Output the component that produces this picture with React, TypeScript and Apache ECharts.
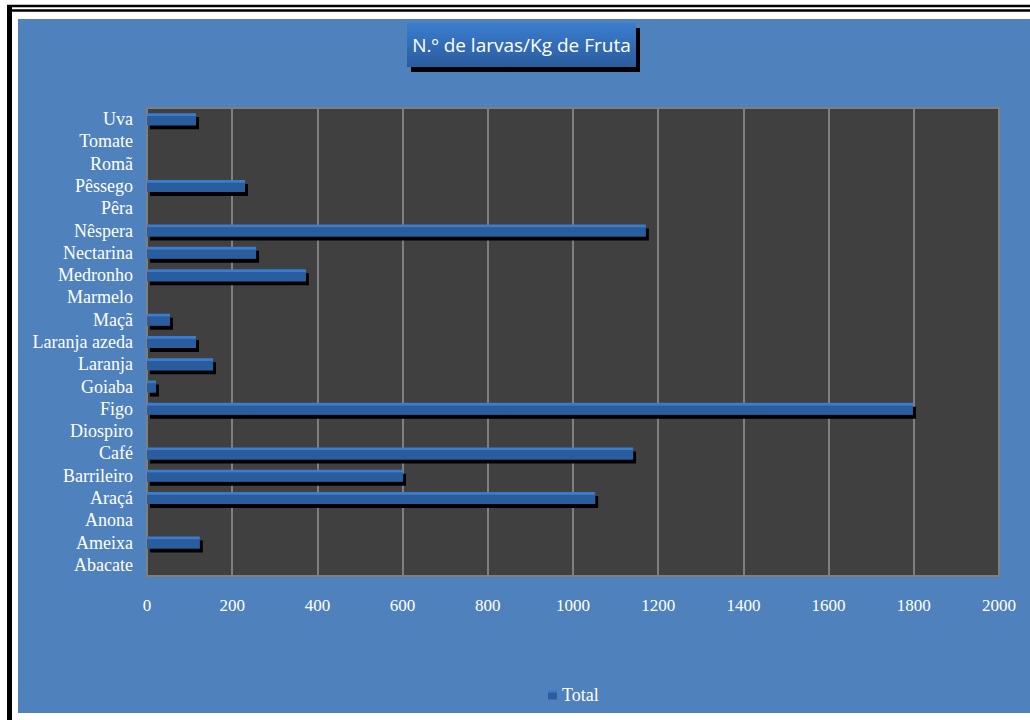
import React, { useEffect, useRef } from "react";
import * as echarts from "echarts";

const categories = [
  "Abacate", "Ameixa", "Anona", "Araçá", "Barrileiro", "Café", "Diospiro", "Figo",
  "Goiaba", "Laranja", "Laranja azeda", "Maçã", "Marmelo", "Medronho", "Nectarina",
  "Nêspera", "Pêra", "Pêssego", "Romã", "Tomate", "Uva",
];
const totals = [
  0, 124, 0, 1052, 601, 1141, 0, 1798,
  21, 155, 115, 54, 0, 373, 256,
  1171, 0, 230, 0, 0, 115,
];
const xTicks = { min: 0, max: 2000, interval: 200 };
const seriesName = "Total";
const titleText = "N.º de larvas/Kg de Fruta";

export default function App() {
  const ref = useRef<HTMLDivElement>(null);
  useEffect(() => {
    if (!ref.current) return;
    const chart = echarts.init(ref.current, null, { renderer: "svg" });
    const serif = "'Liberation Serif', 'Times New Roman', serif";
    chart.setOption({
      animation: false,
      backgroundColor: "#ffffff",
      graphic: [
        { type: "rect", shape: { x: 18, y: 19, width: 1012, height: 694 }, style: { fill: "#4f81bd" }, z: -10 },
        { type: "line", shape: { x1: 7, y1: 6, x2: 1030, y2: 6 }, style: { stroke: "#000", lineWidth: 2.5 } },
        { type: "line", shape: { x1: 9, y1: 10.5, x2: 1030, y2: 10.5 }, style: { stroke: "#000", lineWidth: 2.5 } },
        { type: "line", shape: { x1: 9.5, y1: 5, x2: 9.5, y2: 720 }, style: { stroke: "#000", lineWidth: 5 } },
        { type: "rect", shape: { x: 411, y: 28, width: 229, height: 44 }, style: { fill: "#000" }, z: 10 },
        {
          type: "rect",
          shape: { x: 407, y: 23, width: 229, height: 44 },
          style: {
            fill: new echarts.graphic.LinearGradient(0, 0, 0, 1, [
              { offset: 0, color: "#3a7dd0" },
              { offset: 1, color: "#2b5c9c" },
            ]),
          },
          z: 11,
        },
        {
          type: "text",
          x: 521.5,
          y: 45,
          style: {
            text: titleText,
            fill: "#ffffff",
            font: "19px 'Open Sans', 'Noto Sans', sans-serif",
            textAlign: "center",
            textVerticalAlign: "middle",
          },
          z: 12,
        },
      ],
      grid: {
        left: 147,
        right: 31,
        top: 108,
        bottom: 144,
        show: true,
        backgroundColor: "#404040",
        borderColor: "#7f7f7f",
        borderWidth: 2,
        containLabel: false,
      },
      legend: {
        data: [seriesName],
        left: 543,
        top: 681,
        icon: "rect",
        itemWidth: 9,
        itemHeight: 9,
        itemGap: 6,
        textStyle: { color: "#ffffff", fontFamily: serif, fontSize: 18 },
      },
      xAxis: {
        type: "value",
        min: xTicks.min,
        max: xTicks.max,
        interval: xTicks.interval,
        axisLine: { show: false },
        axisTick: { show: false },
        splitLine: { lineStyle: { color: "#7f7f7f", width: 2 } },
        axisLabel: {
          color: "#ffffff",
          fontFamily: serif,
          fontSize: 17,
          margin: 21,
          formatter: (v: number) => String(v),
        },
      },
      yAxis: {
        type: "category",
        data: categories,
        axisLine: { show: false },
        axisTick: { show: false },
        axisLabel: {
          color: "#ffffff",
          fontFamily: serif,
          fontSize: 18,
          margin: 14,
          interval: 0,
          hideOverlap: false,
        },
      },
      series: [
        {
          name: seriesName,
          type: "bar",
          data: totals,
          barWidth: 12,
          itemStyle: {
            color: new echarts.graphic.LinearGradient(0, 0, 0, 1, [
              { offset: 0, color: "#3b7bcc" },
              { offset: 0.2, color: "#3b7bcc" },
              { offset: 0.25, color: "#2c5d9d" },
              { offset: 1, color: "#2c5d9d" },
            ]),
            shadowColor: "#000000",
            shadowBlur: 0,
            shadowOffsetX: 3,
            shadowOffsetY: 4,
          },
        },
      ],
    });
    return () => chart.dispose();
  }, []);
  return (
    <div
      ref={ref}
      style={{ position: "absolute", left: 0, top: 0, width: 1030, height: 720 }}
    />
  );
}
